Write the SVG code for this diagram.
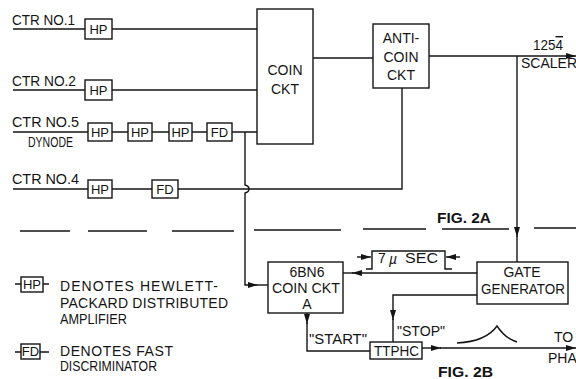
<svg xmlns="http://www.w3.org/2000/svg" width="576" height="379" viewBox="0 0 576 379">
<style>
  .ln{fill:none;stroke:#141414;stroke-width:1.4}
  .bx{fill:#fff;stroke:#141414;stroke-width:1.4}
  text{font-family:"Liberation Sans","DejaVu Sans",Arial,sans-serif;fill:#141414;font-size:14px}
  .sm{font-size:13px}
  .c{text-anchor:middle}
</style>
<defs>
  <marker id="arr" viewBox="0 0 10 6" refX="10" refY="3" markerWidth="10" markerHeight="6" markerUnits="userSpaceOnUse" orient="auto">
    <path d="M0,0 L10,3 L0,6 z" fill="#141414"/>
  </marker>
</defs>
<rect width="576" height="379" fill="#fff"/>

<g id="connectors">
  <path class="ln" d="M13,29 H85 M112,29 H257"/>
  <path class="ln" d="M13,90 H85 M112,90 H257"/>
  <path class="ln" d="M13,132 H88 M112,132 H128 M152,132 H169 M192,132 H207 M232,132 H257"/>
  <path class="ln" d="M13,189 H88 M112,189 H152 M178,189 H402 V88"/>
  <path class="ln" d="M245,132 V185 Q249,186 249,189 Q249,192 245,193 V285 H258" marker-end="url(#arr)"/>
  <path class="ln" d="M258,285 H268"/>
  <path class="ln" d="M313,58 H373"/>
  <path class="ln" d="M429,56 H576" marker-end="url(#arr)"/>
  <path class="ln" d="M517,56 V237" marker-end="url(#arr)"/>
  <path class="ln" d="M517,236 V262"/>
  <path class="ln" d="M477,273 H352" marker-end="url(#arr)"/>
  <path class="ln" d="M353,273 H343"/>
  <path class="ln" d="M366,269 H372 V251 H445 V269 H452"/>
  <path class="ln" d="M357,257 H371" marker-end="url(#arr)"/>
  <path class="ln" d="M460,257 H446" marker-end="url(#arr)"/>
  <path class="ln" d="M477,295 H393 V320" marker-end="url(#arr)"/>
  <path class="ln" d="M393,319 V342"/>
  <path class="ln" d="M307,313 V324" marker-end="url(#arr)"/>
  <path class="ln" d="M307,323 V351 H370"/>
  <path class="ln" d="M422,348 H441" marker-end="url(#arr)"/>
  <path class="ln" d="M440,348 H576" marker-end="url(#arr)"/>
  <path class="ln" d="M457,343 C476,342 490,336 497,326 C503,335 510,340 517,342"/>
  <path class="ln" d="M20,231 H70 M88,231 H147 M172,231 H234 M254,230 H341 M363,229 H426 M442,229 H509 M534,228 H576"/>
</g>

<g id="labels-inputs">
  <text x="12" y="25" textLength="63" lengthAdjust="spacingAndGlyphs">CTR NO.1</text>
  <text x="12" y="86" textLength="64" lengthAdjust="spacingAndGlyphs">CTR NO.2</text>
  <text x="12" y="127" textLength="67" lengthAdjust="spacingAndGlyphs">CTR NO.5</text>
  <text x="28" y="147" font-size="12.5" textLength="45" lengthAdjust="spacingAndGlyphs">DYNODE</text>
  <text x="12" y="184" textLength="67" lengthAdjust="spacingAndGlyphs">CTR NO.4</text>
</g>

<g id="hp1"><rect class="bx" x="85" y="19" width="27" height="20"/><text class="c sm" x="98.5" y="34">HP</text></g>
<g id="hp2"><rect class="bx" x="85" y="80" width="27" height="20"/><text class="c sm" x="98.5" y="95">HP</text></g>
<g id="hp5a"><rect class="bx" x="88" y="123" width="24" height="18"/><text class="c sm" x="100" y="137">HP</text></g>
<g id="hp5b"><rect class="bx" x="128" y="123" width="24" height="18"/><text class="c sm" x="140" y="137">HP</text></g>
<g id="hp5c"><rect class="bx" x="169" y="123" width="23" height="18"/><text class="c sm" x="180.5" y="137">HP</text></g>
<g id="fd5"><rect class="bx" x="207" y="123" width="25" height="18"/><text class="c sm" x="219.5" y="137">FD</text></g>
<g id="hp4"><rect class="bx" x="88" y="180" width="24" height="18"/><text class="c sm" x="100" y="194">HP</text></g>
<g id="fd4"><rect class="bx" x="152" y="180" width="26" height="18"/><text class="c sm" x="165" y="194">FD</text></g>

<g id="coin">
  <rect class="bx" x="257" y="9" width="56" height="135"/>
  <text class="c" x="285" y="75">COIN</text>
  <text class="c" x="285" y="94">CKT</text>
</g>
<g id="anticoin">
  <rect class="bx" x="373" y="24" width="56" height="64"/>
  <text class="c" x="401" y="43">ANTI-</text>
  <text class="c" x="401" y="62">COIN</text>
  <text class="c" x="401" y="80">CKT</text>
</g>
<g id="scaler">
  <text x="533" y="50" textLength="30" lengthAdjust="spacingAndGlyphs">125<tspan text-decoration="overline">4</tspan></text>
  <text x="521" y="68" font-size="13">SCALER</text>
</g>

<text x="437" y="223" textLength="54" lengthAdjust="spacingAndGlyphs" font-weight="bold">FIG. 2A</text>

<g id="coin6bn6">
  <rect class="bx" x="268" y="262" width="75" height="51"/>
  <text class="c" x="307" y="277">6BN6</text>
  <text class="c" x="306" y="293" textLength="68" lengthAdjust="spacingAndGlyphs">COIN CKT</text>
  <text class="c" x="307" y="309">A</text>
</g>
<g id="gategen">
  <rect class="bx" x="477" y="262" width="91" height="42"/>
  <text class="c" x="522" y="277">GATE</text>
  <text x="481" y="294" textLength="84" lengthAdjust="spacingAndGlyphs">GENERATOR</text>
</g>
<g id="delay">
  <text x="378" y="263">7</text>
  <text x="389" y="264" font-size="20" font-style="italic">µ</text>
  <text x="405" y="263" textLength="33" lengthAdjust="spacingAndGlyphs">SEC</text>
</g>
<g id="ttphc">
  <rect class="bx" x="370" y="342" width="52" height="17"/>
  <text x="374" y="356" textLength="45" lengthAdjust="spacingAndGlyphs">TTPHC</text>
</g>
<text x="309" y="344" textLength="58" lengthAdjust="spacingAndGlyphs">"START"</text>
<text x="397" y="336" textLength="48" lengthAdjust="spacingAndGlyphs">"STOP"</text>
<text x="554" y="342">TO</text>
<text x="548" y="363" font-size="12.5">PHA</text>
<text x="438" y="377" textLength="55" lengthAdjust="spacingAndGlyphs" font-weight="bold">FIG. 2B</text>

<g id="legend-hp">
  <path class="ln" d="M15,284 H21 M43,284 H49"/>
  <rect class="bx" x="21" y="277" width="22" height="15"/>
  <text class="c sm" x="32" y="289">HP</text>
  <text x="60" y="291" textLength="158" lengthAdjust="spacing">DENOTES HEWLETT-</text>
  <text x="60" y="308" textLength="168" lengthAdjust="spacing">PACKARD DISTRIBUTED</text>
  <text x="60" y="324" font-size="13.5" textLength="67" lengthAdjust="spacingAndGlyphs">AMPLIFIER</text>
</g>
<g id="legend-fd">
  <path class="ln" d="M15,352 H21 M40,352 H49"/>
  <rect class="bx" x="21" y="344" width="19" height="15"/>
  <text class="c sm" x="30.5" y="356">FD</text>
  <text x="60" y="356" font-size="13.5" textLength="113" lengthAdjust="spacing">DENOTES FAST</text>
  <text x="60" y="371" font-size="13" textLength="97" lengthAdjust="spacingAndGlyphs">DISCRIMINATOR</text>
</g>
</svg>
